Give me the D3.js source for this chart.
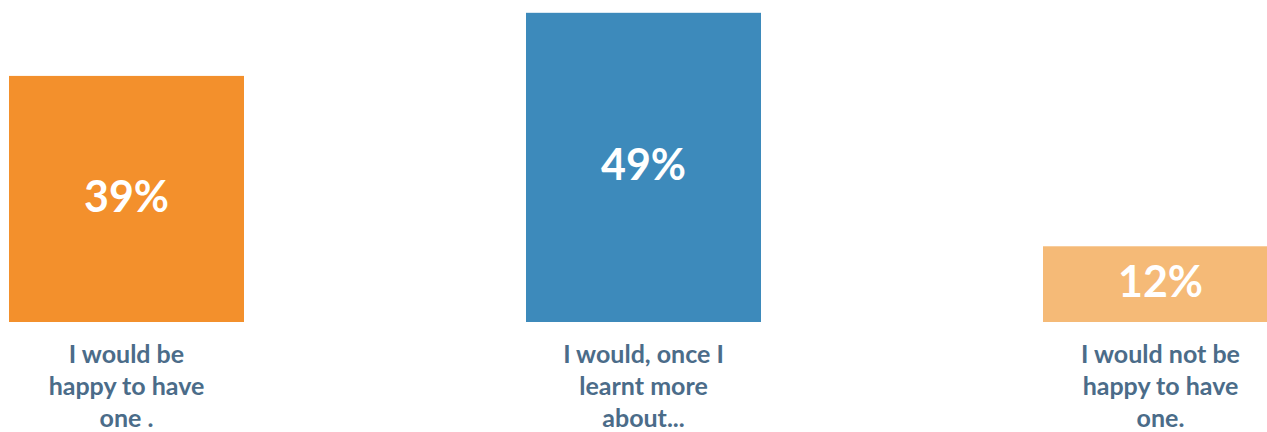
<!DOCTYPE html>
<html>
<head>
<meta charset="utf-8">
<script src="https://cdn.jsdelivr.net/npm/d3@7"></script>
<style>
  html, body { margin: 0; padding: 0; background: #fff; overflow: hidden; }
  svg { display: block; }
</style>
</head>
<body>
<svg id="chart" width="1267" height="432"></svg>
<script>
// Survey answers: share of respondents per answer
const categories = ["happy", "learn", "not"];
const values = [39, 49, 12];
const valueLabels = ["39%", "49%", "12%"];
const answerLines = [
  ["I would be", "happy to have", "one ."],
  ["I would, once I", "learnt more", "about..."],
  ["I would not be", "happy to have", "one."]
];
const colors = ["#F3902C", "#3D8ABB", "#F5BA77"];

const svg = d3.select("#chart");
const baseY = 322;

// three columns 517px apart, each bar 235px wide; the last one runs past the right edge
const x = d3.scaleBand()
  .domain(categories)
  .range([9, 9 + 517 * 2 + 235])
  .paddingInner(282 / 517)
  .paddingOuter(0);

const y = d3.scaleLinear()
  .domain([0, 50])
  .range([baseY, baseY - 315.5]);

const font = "'Lato', 'Open Sans', sans-serif";

const g = svg.selectAll("g.bar")
  .data(categories)
  .join("g")
  .attr("class", "bar");

g.append("rect")
  .attr("x", d => x(d))
  .attr("width", x.bandwidth())
  .attr("y", (d, i) => y(values[i]))
  .attr("height", (d, i) => baseY - y(values[i]))
  .attr("fill", (d, i) => colors[i]);

g.append("text")
  .attr("x", d => x(d) + x.bandwidth() / 2)
  .attr("y", (d, i) => (y(values[i]) + baseY) / 2)
  .attr("dy", "0.3em")
  .attr("text-anchor", "middle")
  .attr("fill", "#fff")
  .style("font-family", font)
  .style("font-weight", "700")
  .style("font-size", "43px")
  .text((d, i) => valueLabels[i]);

const labels = g.append("text")
  .attr("text-anchor", "middle")
  .attr("fill", "#4B6C89")
  .style("font-family", font)
  .style("font-weight", "700")
  .style("font-size", "25px");

labels.selectAll("tspan")
  .data((d, i) => answerLines[i].map(t => ({ t, cx: x(d) + x.bandwidth() / 2 })))
  .join("tspan")
  .attr("x", d => d.cx)
  .attr("y", (d, j) => 363 + j * 32)
  .text(d => d.t);
</script>
</body>
</html>
